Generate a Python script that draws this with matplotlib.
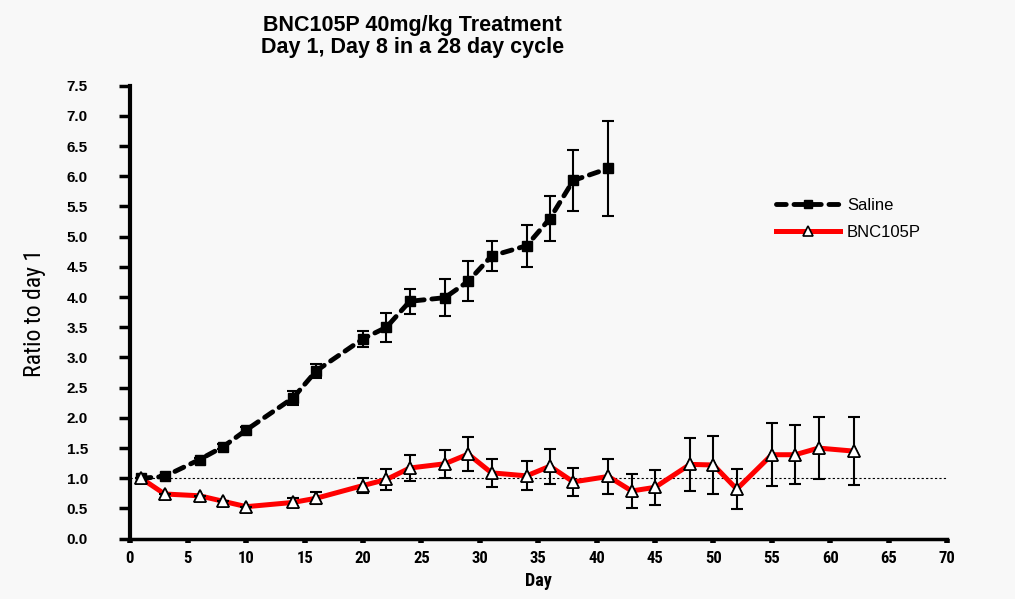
import numpy as np
import matplotlib; matplotlib.use("Agg")
import matplotlib.pyplot as plt

# data
days_sal = [1, 3, 6, 8, 10, 14, 16, 20, 22, 24, 27, 29, 31, 34, 36, 38, 41]
saline = [1.0, 1.03, 1.31, 1.52, 1.80, 2.33, 2.78, 3.31, 3.50, 3.93, 3.99, 4.26, 4.68, 4.85, 5.30, 5.93, 6.13]
saline_err = [0.0, 0.03, 0.03, 0.04, 0.05, 0.12, 0.12, 0.13, 0.24, 0.21, 0.31, 0.33, 0.25, 0.35, 0.38, 0.50, 0.78]

days_bnc = [1, 3, 6, 8, 10, 14, 16, 20, 22, 24, 27, 29, 31, 34, 36, 38, 41, 43, 45, 48, 50, 52, 55, 57, 59, 62]
bnc = [1.0, 0.74, 0.71, 0.62, 0.53, 0.60, 0.67, 0.88, 0.98, 1.17, 1.24, 1.40, 1.09, 1.04, 1.20, 0.94, 1.03,
       0.79, 0.85, 1.23, 1.22, 0.82, 1.39, 1.39, 1.50, 1.45]
bnc_err = [0.0, 0.0, 0.0, 0.0, 0.0, 0.07, 0.10, 0.13, 0.17, 0.21, 0.23, 0.28, 0.23, 0.24, 0.29, 0.23, 0.29,
           0.28, 0.29, 0.44, 0.48, 0.33, 0.52, 0.49, 0.52, 0.56]

BG = "#f8f8f8"
NARROW = ["Roboto Condensed", "Archivo Narrow", "DejaVu Sans"]
plt.rcParams.update({"font.family": ["Liberation Sans", "DejaVu Sans"]})

fig = plt.figure(figsize=(10.15, 5.99), dpi=100, facecolor=BG)
ax = fig.add_axes([0.1276, 0.1007, 0.8054, 0.7563], facecolor=BG)

ax.axhline(1.0, color="black", lw=0.8, ls=(0, (2, 2)), zorder=1)

ax.plot(days_sal, saline, color="black", lw=3.5, ls=(0, (2, 1.6)), dash_capstyle="round",
        marker="s", ms=7.5, mfc="black", mec="black", zorder=3, label="Saline")
ax.errorbar(days_sal, saline, yerr=saline_err, fmt="none", ecolor="black", elinewidth=1.5,
            capsize=4.3, capthick=1.5, zorder=4)

ax.plot(days_bnc, bnc, color="#ff0000", lw=3.6, zorder=2, label="BNC105P",
        marker="^", ms=9, mfc="white", mec="black", mew=1.2)
ax.errorbar(days_bnc, bnc, yerr=bnc_err, fmt="none", ecolor="black", elinewidth=1.5,
            capsize=4.3, capthick=1.5, zorder=4)
ax.plot(days_bnc, bnc, ls="none", marker="^", ms=9, mfc="white", mec="black", mew=1.2, zorder=5)

ax.set_xlim(0, 70)
ax.set_ylim(0, 7.5)
ax.set_xticks(np.arange(0, 71, 5))
ax.set_yticks(np.arange(0, 7.6, 0.5))
ax.set_yticklabels([f"{v:.1f}" for v in np.arange(0, 7.6, 0.5)], fontsize=11, fontweight="bold")
ax.set_xticklabels([str(v) for v in range(0, 71, 5)], fontsize=12, fontweight="bold", family=NARROW)
ax.tick_params(axis="y", direction="out", length=8, width=2.5, pad=22)
ax.tick_params(axis="x", direction="out", length=3, width=4, pad=6)
for s in ("top", "right"):
    ax.spines[s].set_visible(False)
ax.spines["left"].set_linewidth(3)
ax.spines["bottom"].set_linewidth(2.5)
ax.spines["left"].set_zorder(6)

ax.set_xlabel("Day", fontsize=13, fontweight="bold", family=NARROW, labelpad=4)
fig.text(0.034, 0.478, "Ratio to day 1", rotation=90, ha="center", va="center",
         fontsize=17, family=NARROW)

fig.text(0.406, 0.939, "BNC105P 40mg/kg Treatment\nDay 1, Day 8 in a 28 day cycle",
         ha="center", va="center", fontsize=15.5, fontweight="bold", linespacing=1.1)

leg = ax.legend(loc="upper left", bbox_to_anchor=(0.75, 0.695), bbox_transform=fig.transFigure,
                frameon=False, fontsize=12, handlelength=3.8, handletextpad=0.45,
                labelspacing=0.75, markerscale=0.8)

fig.savefig("out.png", facecolor=BG)
